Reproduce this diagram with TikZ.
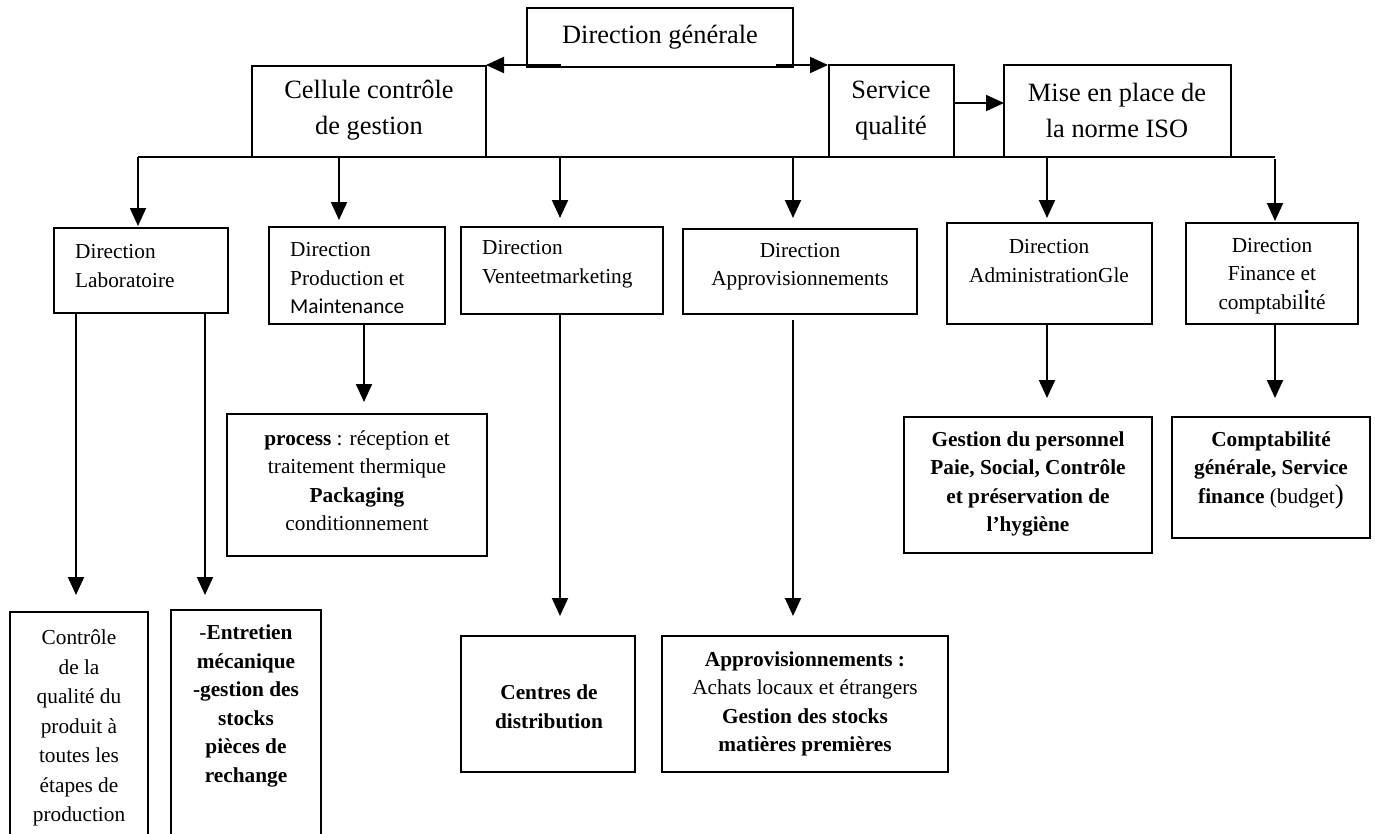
\documentclass[tikz,border=0pt]{standalone}
\usepackage{fontspec}
\setmainfont{Liberation Serif}
\newfontfamily\calibrifont{Carlito}
\usetikzlibrary{arrows.meta,calc}

% box from (x1,y1) to (x2,y2), pixel-like units, y downwards
\newcommand\orgbox[5]{%
  \node[box, minimum width={#4-#2}, minimum height={#5-#3}] (#1)
    at ({(#2+#4)/2},{(#3+#5)/2}) {};}

\begin{document}
\begin{tikzpicture}[x=1pt,y=-1pt,
  box/.style={draw, line width=2pt, inner sep=0pt, outer sep=0pt},
  big/.style={inner sep=0pt, align=center, font=\fontsize{26.4}{36}\selectfont},
  small/.style={inner sep=0pt, align=center, font=\fontsize{21.3}{28.5}\selectfont},
  bsmall/.style={small, font=\fontsize{21.3}{28.5}\selectfont\bfseries},
  ln/.style={line width=2pt},
  arr/.style={line width=2pt, -{Triangle[length=18pt,width=16pt]}}]
\useasboundingbox (0,0) rectangle (1375,833);

% ---- boxes ----
\orgbox{dg}{527}{8}{793}{66.5}
\orgbox{cell}{252}{66}{486}{157}
\orgbox{serv}{829}{65}{954}{157}
\orgbox{iso}{1004}{65}{1231}{157}
\orgbox{lab}{54}{228}{228}{313}
\orgbox{prod}{269}{227}{445}{324}
\orgbox{vente}{461}{227}{663}{314}
\orgbox{appro}{683}{229}{917}{314}
\orgbox{admin}{947}{223}{1152}{324}
\orgbox{fin}{1186}{223}{1358}{324}
\orgbox{proc}{227}{414}{487}{556}
\orgbox{ctrl}{10}{612}{148}{860}
\orgbox{entr}{171}{610}{321}{860}
\orgbox{centres}{461}{636}{635}{772}
\orgbox{appro2}{662}{636}{948}{772}
\orgbox{gest}{904}{417}{1152}{553}
\orgbox{compta}{1172}{417}{1370}{538}

% ---- texts ----
\node[big] (dgt) at (660,37) {Direction générale};
\node[big] (cellt) at (369,110.5) {Cellule contrôle\\de gestion};
\node[big] (servt) at (891,110.5) {Service\\qualité};
\node[big] (isot) at (1117,110.5) {Mise en place de\\la norme ISO};

\node[small, align=left, anchor=west] (labt) at (75,266) {Direction\\Laboratoire};
\node[small, align=left, anchor=west] (prodt) at (290,278.5)
  {Direction\\Production et\\{\calibrifont Maintenance}};
\node[small, align=left, anchor=west] (ventet) at (482,264) {Direction\\Venteetmarketing};
\node[small] (approt) at (800,266.5) {Direction\\Approvisionnements};
\node[small] (admint) at (1049,261) {Direction\\AdministrationGle};
\node[small] (fint) at (1272,276)
  {Direction\\Finance et\\comptabil{\calibrifont\fontsize{28}{28}\selectfont i}té};

\node[small] (proct) at (357,480.5)
  {\textbf{process} : réception et\\traitement thermique\\\textbf{Packaging}\\conditionnement};
\node[small, font=\fontsize{21.3}{29.5}\selectfont] (ctrlt) at (79,728)
  {Contrôle\\de la\\qualité du\\produit à\\toutes les\\étapes de\\production};
\node[small] (entrt) at (246,706)
  {-\textbf{Entretien}\\\textbf{mécanique}\\\textbf{-gestion des}\\\textbf{stocks}\\\textbf{pièces de}\\\textbf{rechange}};
\node[bsmall] (centrest) at (549,706.5) {Centres de\\distribution};
\node[small] (appro2t) at (805,704)
  {\textbf{Approvisionnements :}\\Achats locaux et étrangers\\\textbf{Gestion des stocks}\\\textbf{matières premières}};
\node[bsmall] (gestt) at (1028,484)
  {Gestion du personnel\\Paie, Social, Contrôle\\et préservation de\\l’hygiène};
\node[bsmall] (comptat) at (1271,470)
  {Comptabilité\\générale, Service\\finance {\mdseries (budget{\fontsize{27}{27}\selectfont)}}};

% ---- connectors: top level ----
\coordinate (dgl) at ($(dg.south west)+(34,-1.5)$);
\coordinate (dgr) at ($(dg.south east)+(-17,-1.5)$);
\draw[arr] (dgl) -- (dgl -| cell.east);
\draw[arr] (dgr) -- ($(dgr -| serv.west)+(-1,0)$);
\draw[arr] ([yshift=8pt]serv.east) -- ([yshift=8pt]iso.west);

% distribution bus
\coordinate (b1) at (138,157);
\coordinate (b2) at (339,157);
\coordinate (b3) at (560,157);
\coordinate (b4) at (793,157);
\coordinate (b5) at (1047,157);
\coordinate (b6) at (1275,157);
\draw[ln] (b1) -- (b6);
\draw[arr, shorten >=2pt] (b1) -- (b1 |- lab.north);
\draw[arr, shorten >=7pt] (b2) -- (b2 |- prod.north);
\draw[arr, shorten >=9pt] (b3) -- (b3 |- vente.north);
\draw[arr, shorten >=11pt] (b4) -- (b4 |- appro.north);
\draw[arr, shorten >=5pt] (b5) -- (b5 |- admin.north);
\draw[arr, shorten >=2pt] ([yshift=-2pt]b6) -- (b6 |- fin.north);

% ---- connectors: second level ----
\coordinate (l1) at ($(lab.south west)+(22,0)$);
\coordinate (l2) at ($(lab.south west)+(151,0)$);
\coordinate (p1) at ($(prod.south)+(7,0)$);
\coordinate (v1) at ($(vente.south)+(-2,0)$);
\coordinate (a1) at ($(appro.south)+(-7,6)$);
\coordinate (d1) at ($(admin.south)+(-2.5,0)$);
\coordinate (f1) at ($(fin.south)+(3,0)$);
\draw[arr, shorten >=17pt] (l1) -- (l1 |- ctrl.north);
\draw[arr, shorten >=15pt] (l2) -- (l2 |- entr.north);
\draw[arr, shorten >=12pt] (p1) -- (p1 |- proc.north);
\draw[arr, shorten >=20pt] (v1) -- (v1 |- centres.north);
\draw[arr, shorten >=20pt] (a1) -- (a1 |- appro2.north);
\draw[arr, shorten >=19pt] (d1) -- (d1 |- gest.north);
\draw[arr, shorten >=19pt] (f1) -- (f1 |- compta.north);
\end{tikzpicture}
\end{document}
